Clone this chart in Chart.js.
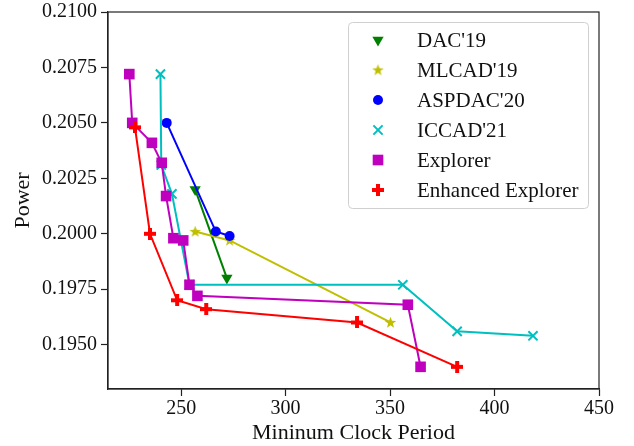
<!DOCTYPE html>
<html>
<head>
<meta charset="utf-8">
<script src="https://cdn.jsdelivr.net/npm/chart.js@4.4.0/dist/chart.umd.min.js"></script>
<style>
  body { margin: 0; background: #fff; }
  canvas { display: block; }
</style>
</head>
<body>
<canvas id="pareto" width="634" height="446"></canvas>
<script>
// values
const dacX = [256.7, 271.9]
const dacY = [0.2020, 0.1980]
const mlcadX = [256.7, 273.2, 350.2]
const mlcadY = [0.2001, 0.1997, 0.1960]
const aspdacX = [243.1, 266.6, 273.2]
const aspdacY = [0.2050, 0.2001, 0.1999]
const iccadX = [240.1, 240.5, 245.6, 254.0, 356.1, 382.1, 418.4]
const iccadY = [0.2072, 0.2031, 0.2018, 0.1977, 0.1977, 0.1956, 0.1954]
const explorerX = [225.2, 226.6, 236.0, 240.7, 242.8, 246.3, 251.0, 254.0, 257.8, 358.5, 364.6]
const explorerY = [0.2072, 0.2050, 0.2041, 0.2032, 0.2017, 0.1998, 0.1997, 0.1977, 0.1972, 0.1968, 0.1940]
const enhancedX = [227.9, 235.1, 248.1, 262.0, 334.2, 382.1]
const enhancedY = [0.2048, 0.2000, 0.1970, 0.1966, 0.1960, 0.1940]

const xTicks = [250, 300, 350, 400, 450]
const yTicks = [0.1950, 0.1975, 0.2000, 0.2025, 0.2050, 0.2075, 0.2100]
const seriesNames = ["DAC'19", "MLCAD'19", "ASPDAC'20", "ICCAD'21", "Explorer", "Enhanced Explorer"]

const serif = "'Liberation Serif', 'DejaVu Serif', serif"

function pts(xs, ys) {
    return xs.map((x, i) => ({ x: x, y: ys[i] }))
}

// filled star marker like matplotlib '*'
function starImage(color) {
    const c = document.createElement('canvas')
    c.width = 13; c.height = 13
    const g = c.getContext('2d')
    g.beginPath()
    for (let i = 0; i < 10; i++) {
        const r = i % 2 === 0 ? 6 : 2.5
        const a = -Math.PI / 2 + i * Math.PI / 5
        const px = 6.5 + r * Math.cos(a), py = 6.8 + r * Math.sin(a)
        if (i === 0) g.moveTo(px, py); else g.lineTo(px, py)
    }
    g.closePath()
    g.fillStyle = color
    g.fill()
    return c
}

// filled plus marker like matplotlib 'P'
function plusImage(color) {
    const c = document.createElement('canvas')
    c.width = 12; c.height = 12
    const g = c.getContext('2d')
    g.fillStyle = color
    g.fillRect(0, 4, 12, 4)
    g.fillRect(4, 0, 4, 12)
    return c
}

const green = '#008000', yellow = '#bfbf00', blue = '#0000ff'
const cyan = '#00bfbf', magenta = '#bf00bf', red = '#ff0000'

const datasets = [
    { label: seriesNames[0], data: pts(dacX, dacY), borderColor: green, backgroundColor: green,
      pointStyle: 'triangle', pointRotation: 180, pointRadius: 6.5, order: 5 },
    { label: seriesNames[1], data: pts(mlcadX, mlcadY), borderColor: yellow, backgroundColor: yellow,
      pointStyle: starImage(yellow), order: 4 },
    { label: seriesNames[2], data: pts(aspdacX, aspdacY), borderColor: blue, backgroundColor: blue,
      pointStyle: 'circle', pointRadius: 5, order: 3 },
    { label: seriesNames[3], data: pts(iccadX, iccadY), borderColor: cyan, backgroundColor: cyan,
      pointStyle: 'crossRot', pointRadius: 6.5, pointBorderWidth: 2, order: 2 },
    { label: seriesNames[4], data: pts(explorerX, explorerY), borderColor: magenta, backgroundColor: magenta,
      pointStyle: 'rect', pointRadius: 7.5, order: 1 },
    { label: seriesNames[5], data: pts(enhancedX, enhancedY), borderColor: red, backgroundColor: red,
      pointStyle: plusImage(red), order: 0 }
]
datasets.forEach(d => {
    d.borderWidth = 2
    d.showLine = true
    d.tension = 0
    if (d.pointBorderWidth === undefined) d.pointBorderWidth = 0
})

// box round the plot and legend inside it
const framePlugin = {
    id: 'frame',
    afterDraw(chart) {
        const ctx = chart.ctx
        const a = chart.chartArea
        ctx.save()
        ctx.strokeStyle = '#222'
        ctx.lineWidth = 1.2
        ctx.strokeRect(a.left, a.top, a.right - a.left, a.bottom - a.top)

        // legend
        const bx = 348.5, by = 22.5, bw = 240, bh = 186
        ctx.beginPath()
        ctx.roundRect(bx, by, bw, bh, 4)
        ctx.fillStyle = 'rgba(255,255,255,0.85)'
        ctx.fill()
        ctx.strokeStyle = '#d0d0d0'
        ctx.lineWidth = 1
        ctx.stroke()

        ctx.font = '21px ' + serif
        ctx.textBaseline = 'middle'
        chart.data.datasets.forEach((d, i) => {
            const ly = 40 + i * 30
            ctx.fillStyle = d.borderColor
            ctx.strokeStyle = d.borderColor
            ctx.lineWidth = d.pointBorderWidth
            Chart.helpers.drawPoint(ctx, {
                pointStyle: d.pointStyle,
                radius: d.pointRadius || 5,
                rotation: d.pointRotation || 0,
                borderWidth: d.pointBorderWidth
            }, 378, ly)
            ctx.fillStyle = '#111'
            ctx.fillText(d.label, 417, ly + 1)
        })
        ctx.restore()
    }
}

const xTickFont = { family: serif, size: 20, lineHeight: 1.0 }
const yTickFont = { family: serif, size: 20, lineHeight: 0.8 }
const titleFont = { family: serif, size: 22, lineHeight: 1.0 }

const chart = new Chart(document.getElementById('pareto'), {
    type: 'scatter',
    data: { datasets: datasets },
    plugins: [framePlugin],
    options: {
        responsive: false,
        animation: false,
        layout: { padding: { top: 11, right: 35, left: 12, bottom: 2 } },
        plugins: {
            legend: { display: false },
            tooltip: { enabled: false }
        },
        scales: {
            x: {
                type: 'linear',
                min: 215,
                max: 450,
                afterBuildTicks: axis => { axis.ticks = xTicks.map(v => ({ value: v })) },
                ticks: { font: xTickFont, color: '#111', padding: 3, maxRotation: 0,
                         callback: v => String(v) },
                grid: { drawOnChartArea: false, tickLength: 7, color: '#222', tickWidth: 1.2 },
                border: { color: '#222', width: 1.2 },
                title: { display: true, text: 'Mininum Clock Period', font: titleFont, color: '#111',
                         padding: { top: 0, bottom: 0 } }
            },
            y: {
                type: 'linear',
                min: 0.1930,
                max: 0.2100,
                afterBuildTicks: axis => { axis.ticks = yTicks.map(v => ({ value: v })) },
                ticks: { font: yTickFont, color: '#111', padding: 4,
                         callback: v => v.toFixed(4) },
                grid: { drawOnChartArea: false, tickLength: 7, color: '#222', tickWidth: 1.2 },
                border: { color: '#222', width: 1.2 },
                title: { display: true, text: 'Power', font: titleFont, color: '#111',
                         padding: { top: 0, bottom: 4 } }
            }
        }
    }
})
</script>
</body>
</html>
